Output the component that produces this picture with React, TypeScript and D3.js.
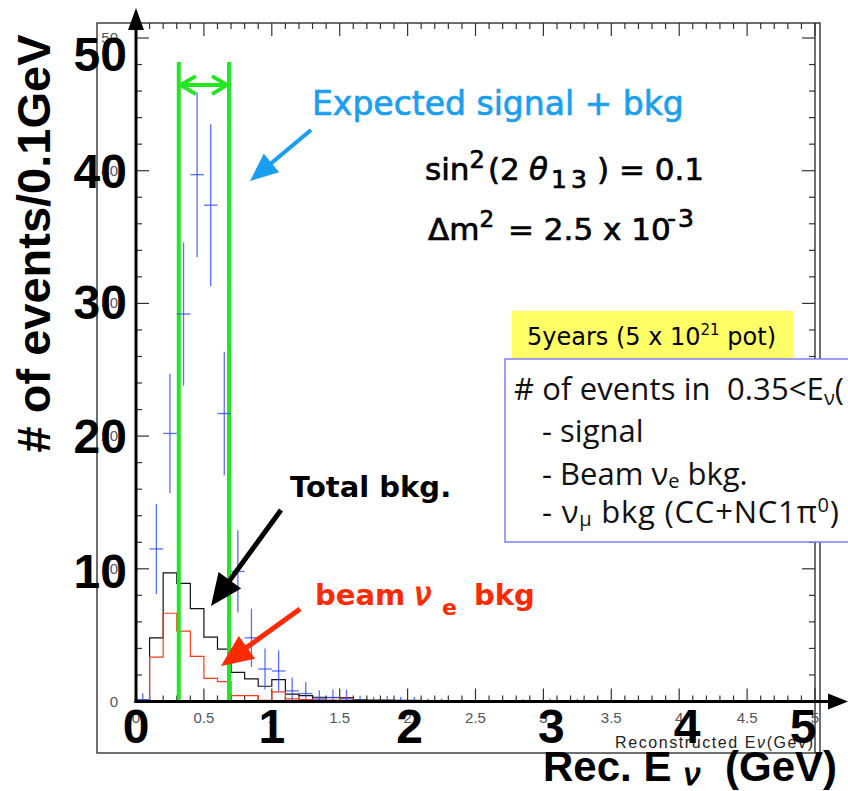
import React from 'react';
import * as d3 from 'd3';

// histogram contents, 0.1 GeV bins starting at 0
const binWidth = 0.1;
const totalBkg = [0.1, 4.8, 9.7, 8.9, 7.0, 4.85, 3.95, 2.2, 1.7, 1.15, 1.65, 0.55, 0.45, 0.32, 0.3, 0.3, 0.12, 0.1, 0.1, 0.08, 0.08, 0.06, 0.05, 0.05, 0.04, 0.04, 0.03, 0.03, 0.03, 0.02, 0.02, 0.02, 0.02];
const beamNue = [0.05, 3.35, 6.65, 5.3, 3.4, 1.75, 1.5, 0.45, 0.45, 0.08, 0.72, 0.2, 0.15, 0.1, 0.1, 0.25, 0.05, 0.04, 0.04, 0.03, 0.03, 0.02, 0.02, 0.02, 0.02];
const signalObs = [0.12, 11.5, 20.2, 29.2, 39.7, 37.4, 21.7, 9.8, 4.8, 2.45, 2.3, 0.8, 0.6, 0.2, 0.3, 0.2, 0.05, 0.05, 0.05, 0.05, 0.05, 0.03, 0.03, 0, 0, 0, 0, 0, 0.02, 0, 0.02, 0, 0.02];
const signalErr = [0.5, 3.4, 4.5, 5.4, 6.2, 6.1, 4.65, 3.1, 2.2, 1.55, 1.55, 1.0, 0.85, 0.65, 0.6, 0.7, 0.38, 0.3, 0.38, 0.3, 0.3, 0.2, 0.2, 0, 0, 0, 0, 0, 0.15, 0, 0.2, 0, 0.18];

// energy window (green lines)
const windowEdges = [0.315, 0.685];
const windowTop = 48.2;
const windowArrowY = 46.45;

// tick labels
const smallXLabels = ['0', '0.5', '1', '1.5', '2', '2.5', '3', '3.5', '4', '4.5', '5'];
const smallYLabels = [0, 10, 20, 30, 40, 50];
const bigXLabels = [0, 1, 2, 3, 4, 5];
const bigYLabels = [10, 20, 30, 40, 50];

// hand placed nudges of the pasted big labels (px)
const bigXNudge: Record<number, number> = { 0: 0, 1: 0, 2: 2, 3: 8, 4: 8, 5: -12 };
const bigYNudge: Record<number, number> = { 10: 2, 20: 0, 30: -1, 40: 0, 50: 16 };

const x = d3.scaleLinear().domain([0, 5]).range([136, 815]);
const y = d3.scaleLinear().domain([0, 50]).range([701.5, 38]);
const yFrameTop = 51.13;

const annoFont = '"DejaVu Sans", sans-serif';
const axisFont = '"Liberation Sans", Arial, sans-serif';

function histPath(vals: number[]) {
  let p = `M${x(0)},${y(0)}`;
  vals.forEach((v, i) => {
    p += `V${y(v)}H${x((i + 1) * binWidth)}`;
  });
  return p + `V${y(0)}`;
}

function Arrow({ x1, y1, x2, y2, color, width, head, half }: any) {
  const a = Math.atan2(y2 - y1, x2 - x1);
  const bx = x2 - head * Math.cos(a), by = y2 - head * Math.sin(a);
  const px = -Math.sin(a) * half, py = Math.cos(a) * half;
  return (
    <g>
      <line x1={x1} y1={y1} x2={bx + Math.cos(a) * 4} y2={by + Math.sin(a) * 4} stroke={color} strokeWidth={width} />
      <path d={`M${x2},${y2}L${bx + px},${by + py}L${bx - px},${by - py}Z`} fill={color} />
    </g>
  );
}

export default function App() {
  const xMinor = d3.range(0, 50.5, 1).map(i => i * binWidth);
  const yMinor = d3.range(0, 51, 2);
  const yTopPx = y(yFrameTop);
  const green = '#22e622';
  const gy = y(windowArrowY);
  const gl = x(windowEdges[0]) + 2, gr = x(windowEdges[1]) - 2;

  return (
    <svg width={848} height={791} style={{ display: 'block', position: 'absolute', left: 0, top: 0 }}>
      <rect width={848} height={791} fill="#fff" />

      {/* outer pad box */}
      <rect x={97} y={yTopPx} width={723} height={753 - yTopPx} fill="none" stroke="#222" strokeWidth={1.3} />
      <line x1={x(5)} y1={yTopPx} x2={x(5)} y2={753} stroke="#222" strokeWidth={1.3} />

      {/* ROOT frame ticks */}
      <g stroke="#333" strokeWidth={1.2}>
        {xMinor.map((v, i) => {
          const major = i % 5 === 0;
          const len = major ? 13 : 6;
          return (
            <g key={'xt' + i}>
              <line x1={x(v)} x2={x(v)} y1={y(0)} y2={y(0) - len} />
              <line x1={x(v)} x2={x(v)} y1={yTopPx} y2={yTopPx + len} />
            </g>
          );
        })}
        {yMinor.map(v => {
          const len = v % 10 === 0 ? 13 : 6;
          return (
            <g key={'yt' + v}>
              <line x1={x(0)} x2={x(0) + len} y1={y(v)} y2={y(v)} />
              <line x1={x(5)} x2={x(5) - len} y1={y(v)} y2={y(v)} />
            </g>
          );
        })}
      </g>

      {/* ROOT small labels */}
      <g fontFamily={axisFont} fontSize={15} fill="#555">
        {smallXLabels.map(s => (
          <text key={'sx' + s} x={x(+s)} y={723} textAnchor="middle">{s}</text>
        ))}
        {smallYLabels.map(v => (
          <text key={'sy' + v} x={118} y={y(v) + 5} textAnchor="end">{v}</text>
        ))}
      </g>
      <text x={813} y={748} textAnchor="end" fontFamily={axisFont} fontSize={16} fill="#222" textLength={198} lengthAdjust="spacing">
        Reconstructed E<tspan fontStyle="italic">ν</tspan>(Gev)
      </text>

      {/* histograms */}
      <path d={histPath(totalBkg)} fill="none" stroke="#111" strokeWidth={1.2} />
      <path d={histPath(beamNue)} fill="none" stroke="#ff3a1a" strokeWidth={1.2} />

      {/* energy window */}
      {windowEdges.map(e => (
        <line key={'w' + e} x1={x(e)} x2={x(e)} y1={y(windowTop)} y2={y(0)} stroke={green} strokeWidth={4} />
      ))}
      <g stroke={green} strokeWidth={4} fill="none">
        <line x1={gl} x2={gr} y1={gy} y2={gy} />
        <path d={`M${gl + 15},${gy - 9}L${gl},${gy}L${gl + 15},${gy + 9}`} />
        <path d={`M${gr - 15},${gy - 9}L${gr},${gy}L${gr - 15},${gy + 9}`} />
      </g>

      {/* expected signal + bkg */}
      <g stroke="#2a4cff" strokeWidth={1.3} strokeOpacity={0.8}>
        {signalObs.map((v, i) => {
          const e = signalErr[i];
          if (!e && !v) return null;
          const lo = i * binWidth, cx = lo + binWidth / 2;
          return (
            <g key={'s' + i}>
              <line x1={x(cx)} x2={x(cx)} y1={y(Math.max(0, v - e))} y2={y(v + e)} />
              {v > 0.1 && <line x1={x(lo)} x2={x(lo + binWidth)} y1={y(v)} y2={y(v)} />}
            </g>
          );
        })}
      </g>

      {/* thick axes with arrows */}
      <line x1={x(0)} x2={x(0)} y1={y(0) + 1.5} y2={28} stroke="#000" strokeWidth={3} />
      <path d={`M${x(0)},8L${x(0) - 8},30L${x(0) + 8},30Z`} fill="#000" />
      <line x1={x(0) - 1.5} x2={830} y1={y(0)} y2={y(0)} stroke="#000" strokeWidth={3.2} />
      <path d={`M848,${y(0)}L828,${y(0) - 8}L828,${y(0) + 8}Z`} fill="#000" />

      {/* big labels */}
      <g fontFamily={axisFont} fontWeight="bold" fontSize={48} fill="#000">
        {bigXLabels.map(v => (
          <text key={'bx' + v} x={x(v) + bigXNudge[v]} y={743} textAnchor="middle">{v}</text>
        ))}
        {bigYLabels.map(v => (
          <text key={'by' + v} x={127} y={y(v) + bigYNudge[v] + 17} textAnchor="end">{v}</text>
        ))}
      </g>
      <text transform="translate(50,243.5) rotate(-90)" textAnchor="middle" fontFamily={axisFont} fontWeight="bold" fontSize={47}>
        # of events/0.1GeV
      </text>
      <g fontFamily={axisFont} fontWeight="bold" fontSize={42}>
        <text x={543} y={781}>Rec. E</text>
        <text x={684} y={785} fontSize={32} fontStyle="italic" fontWeight="normal" stroke="#000" strokeWidth={1.2}>ν</text>
        <text x={725} y={781}>(GeV)</text>
      </g>

      {/* annotations */}
      <text x={312} y={115} fontFamily={annoFont} fontSize={33} fill="#1a9ff0" stroke="#1a9ff0" strokeWidth={0.7}>
        Expected signal + bkg
      </text>
      <Arrow x1={311} y1={130} x2={250} y2={181} color="#1a9ff0" width={4} head={28} half={12} />

      <g fontFamily={annoFont} fill="#000" stroke="#000" strokeWidth={0.7}>
        <text x={425} y={180} fontSize={31}>
          sin<tspan fontSize={24} dy={-12}>2</tspan>
          <tspan x={488} dy={12}>(2</tspan>
          <tspan x={529} fontStyle="italic">θ</tspan>
          <tspan x={551} dy={8} fontSize={25} letterSpacing={4}>13</tspan>
          <tspan x={597} dy={-8}>) = 0.1</tspan>
        </text>
        <text x={428} y={240} fontSize={31}>
          Δm<tspan fontSize={23} dy={-13}>2</tspan>
          <tspan x={508} dy={13}>= 2.5 x 10</tspan>
          <tspan x={667} fontSize={25} dy={-13} letterSpacing={2}>-3</tspan>
        </text>
      </g>

      <text x={290} y={497} fontFamily={annoFont} fontWeight="bold" fontSize={29} fill="#000">Total bkg.</text>
      <Arrow x1={281} y1={510} x2={211} y2={606} color="#000" width={5} head={32} half={14} />

      <text x={315} y={605} fontFamily={annoFont} fontWeight="bold" fontSize={29} fill="#ff2a00">
        beam <tspan x={414} fontStyle="italic" fontWeight="normal" fontSize={31} stroke="#ff2a00" strokeWidth={1.2}>ν</tspan>
        <tspan x={442} dy={10} fontSize={22}>e</tspan>
        <tspan x={474} dy={-10}>bkg</tspan>
      </text>
      <Arrow x1={300} y1={609} x2={221} y2={666} color="#ff2a00" width={5} head={32} half={14} />

      {/* exposure and event counts */}
      <rect x={512} y={311} width={281} height={48} fill="#ffff66" />
      <text x={527} y={345} fontFamily={annoFont} fontSize={24} fill="#000">
        5years (5 x 10<tspan fontSize={15} dy={-10}>21</tspan><tspan dy={10}> pot)</tspan>
      </text>
      <rect x={505} y={359} width={360} height={183} fill="#fff" stroke="#7f7fff" strokeWidth={1.5} />
      <g fontFamily={'"Open Sans", sans-serif'} fontSize={31} fill="#111">
        <text x={514} y={400} xmlSpace="preserve" textLength={330} lengthAdjust="spacing">
          {'# of events in  0.35<E'}<tspan fontSize={20} dy={5}>ν</tspan><tspan dy={-5}>(</tspan>
        </text>
        <text x={542} y={442}>- signal</text>
        <text x={542} y={485}>
          - Beam ν<tspan fontSize={20} dy={3}>e</tspan><tspan dy={-3}> bkg.</tspan>
        </text>
        <text x={542} y={523} textLength={297} lengthAdjust="spacing">
          - ν<tspan fontSize={20} dy={3}>μ</tspan><tspan dy={-3}> bkg (CC+NC1π</tspan>
          <tspan fontSize={20} dy={-11}>0</tspan><tspan dy={11}>)</tspan>
        </text>
      </g>
    </svg>
  );
}
